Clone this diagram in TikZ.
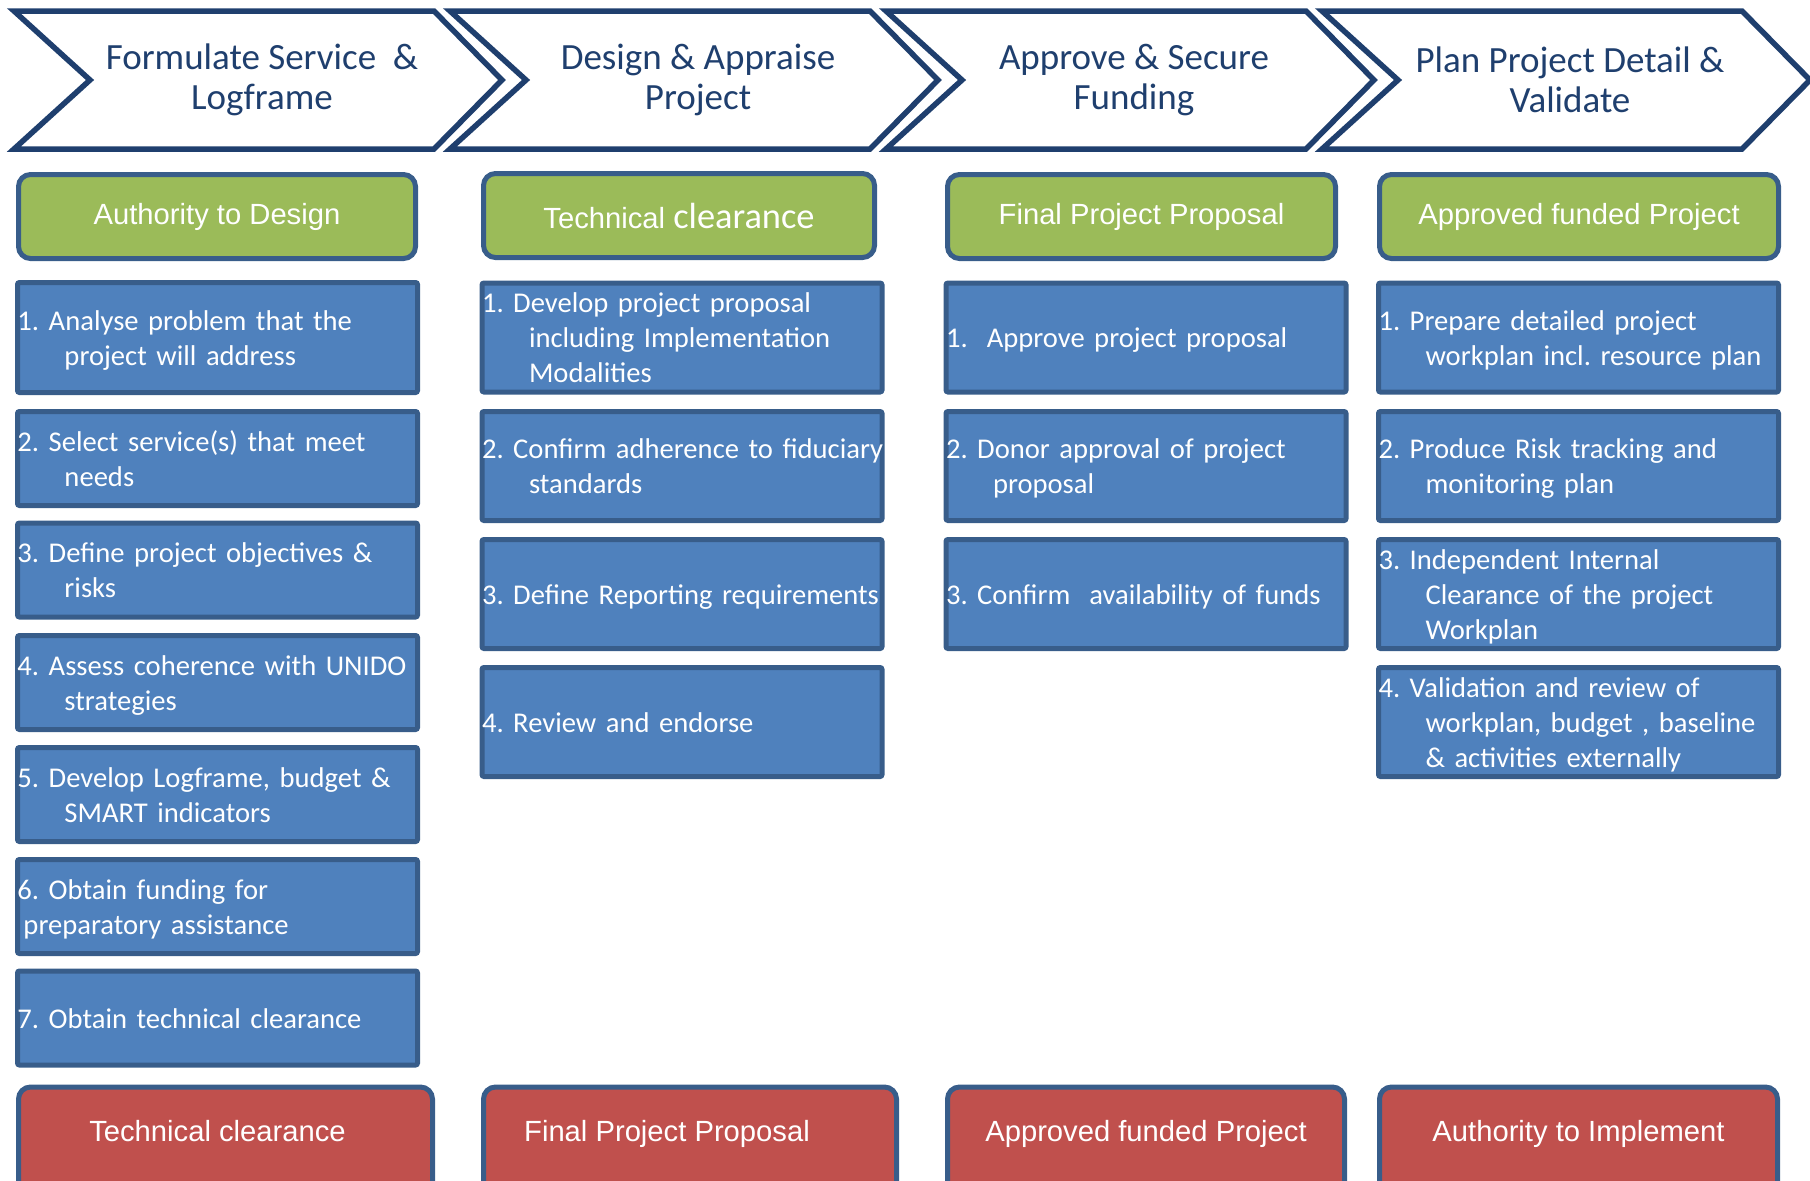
\documentclass[tikz,border=0pt]{standalone}
\usepackage{fontspec}
\setmainfont{Carlito}
\newfontfamily\arialfont{Liberation Sans}
\usepackage{tikz}

\definecolor{stagenavy}{HTML}{1F3F6E}
\definecolor{boxedge}{HTML}{385D8A}
\definecolor{taskblue}{HTML}{4F81BD}
\definecolor{ingreen}{HTML}{9BBB59}
\definecolor{outred}{HTML}{C0504D}
\newcommand{\ind}{\hspace*{23.5pt}}
\newcommand{\tstrut}{\rule[-2.75pt]{0pt}{15.5pt}}
\frenchspacing
\hyphenpenalty=10000

\begin{document}
\begin{tikzpicture}[
  x=0.5pt,y=-0.5pt,
  stage/.style={draw=stagenavy,line width=2.75pt,fill=white},
  stagetext/.style={text=stagenavy,align=center,font=\fontsize{18.5}{20}\selectfont},
  inbox/.style={rectangle,rounded corners=6pt,draw=boxedge,line width=2.5pt,fill=ingreen,
    text=white,font=\arialfont\fontsize{14.6}{17}\selectfont,minimum height=42pt},
  task/.style={rectangle,rounded corners=1pt,draw=boxedge,line width=2.5pt,fill=taskblue,
    text=white,font=\fontsize{14.3}{17.5}\selectfont,align=left,text width=200pt,
    inner xsep=0pt,inner ysep=0pt,minimum height=54.5pt,
    execute at begin node={\tstrut},execute at end node={\tstrut}},
  outbox/.style={rectangle,rounded corners=6pt,draw=boxedge,line width=2.5pt,fill=outred,
    text=white,font=\arialfont\fontsize{14.6}{17}\selectfont,inner ysep=0pt,
    text height=27.25pt,text depth=35.5pt,anchor=north}
]
\clip (0,0) rectangle (1810,1180);

% stages
\foreach \txt [count=\i from 0] in {{Formulate Service~~\&\\Logframe},{Design \& Appraise\\Project},
  {Approve \& Secure\\Funding},{Plan Project Detail \&\\Validate}} {
  \draw[stage] (14+436*\i,11) -- ++(420,0) -- ++(68,69) -- ++(-68,69) -- ++(-420,0) -- ++(76,-69) -- cycle;
  \node[stagetext] (stage\i) at (262+436*\i,80) {\txt};
}

% inputs
\node[inbox,minimum width=198.5pt] (formIn) at (217,216.5) {Authority to Design};
\node[inbox,minimum width=195.5pt] (designIn) at (679,215.5) {Technical {\rmfamily\fontsize{18.2}{20}\selectfont clearance}};
\node[inbox,minimum width=194pt] (approveIn) at (1141.5,216.5) {Final Project Proposal};
\node[inbox,minimum width=199.5pt] (planIn) at (1579,216.5) {Approved funded Project};

% tasks
\foreach \y/\h/\txt [count=\i] in {
  337.5/55pt/{1. Analyse problem that the\\\ind project will address},
  458.5/47pt/{2. Select service(s) that meet\\\ind needs},
  570/47pt/{3. Define project objectives \&\\\ind risks},
  682.5/47pt/{4. Assess coherence with UNIDO\\\ind strategies},
  794.5/47pt/{5. Develop Logframe, budget \&\\\ind SMART indicators},
  906.5/47pt/{6. Obtain funding for\\\hspace*{3pt}preparatory assistance},
  1018/47pt/{7. Obtain technical clearance}}
  \node[task,minimum height=\h] (formTask\i) at (217.5,\y) {\txt};

\foreach \y/\txt [count=\i] in {
  337.5/{1. Develop project proposal\\\ind including Implementation\\\ind Modalities},
  466/{\mbox{2. Confirm adherence to fiduciary}\\\ind standards},
  594/{3. Define Reporting requirements},
  722/{4. Review and endorse}}
  \node[task] (designTask\i) at (682,\y) {\txt};

\foreach \y/\txt [count=\i] in {
  337.5/{1.\ \ Approve project proposal},
  466/{2. Donor approval of project\\\ind proposal},
  594/{3. Confirm\ \ availability of funds}}
  \node[task] (approveTask\i) at (1146,\y) {\txt};

\foreach \y/\txt [count=\i] in {
  337.5/{1. Prepare detailed project\\\ind workplan incl. resource plan},
  466/{2. Produce Risk tracking and\\\ind monitoring plan},
  594/{3. Independent Internal\\\ind Clearance of the project\\\ind Workplan},
  722/{4. Validation and review of\\\ind workplan, budget , baseline\\\ind \& activities externally}}
  \node[task] (planTask\i) at (1578.5,\y) {\txt};

% outputs
\node[outbox,minimum width=207pt] (formOut) at (225.5,1084.5) {Technical clearance\hspace*{8pt}};
\node[outbox,minimum width=206.5pt] (designOut) at (690,1084.5) {Final Project Proposal\hspace*{23pt}};
\node[outbox,minimum width=198.5pt] (approveOut) at (1146,1084.5) {Approved funded Project};
\node[outbox,minimum width=199pt] (planOut) at (1578.5,1084.5) {Authority to Implement};

\end{tikzpicture}
\end{document}
